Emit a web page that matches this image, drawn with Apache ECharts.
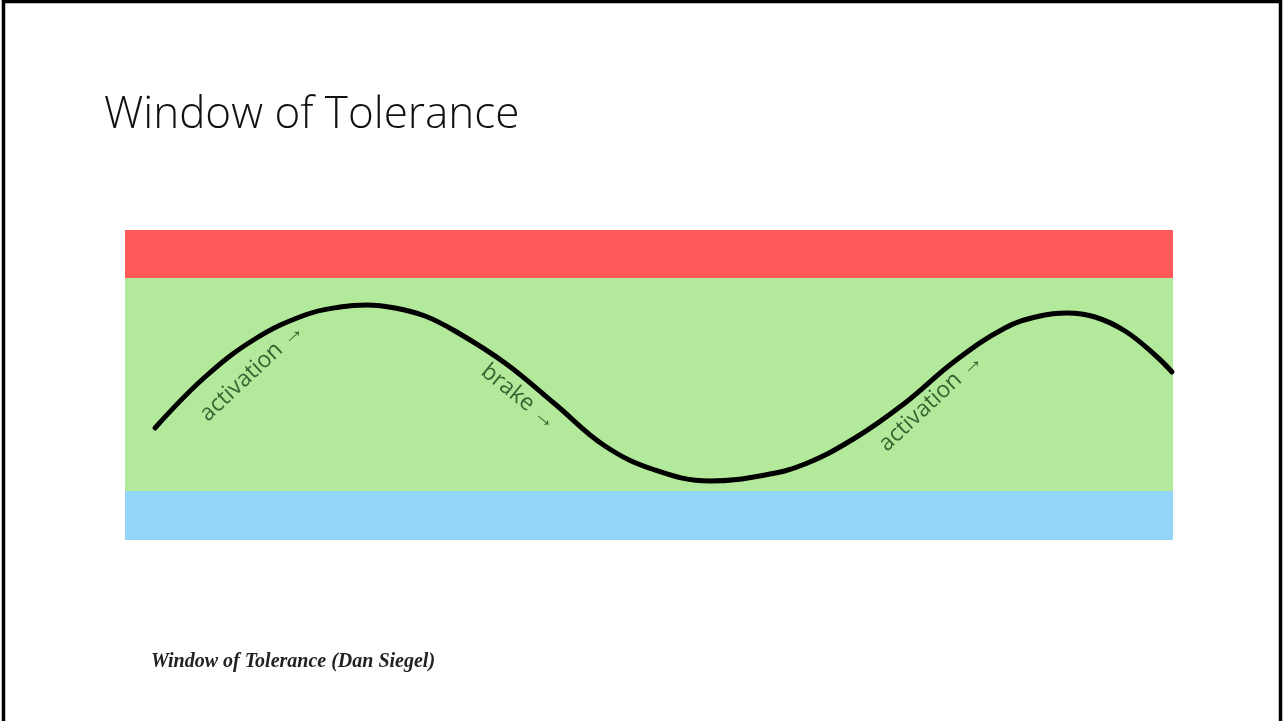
<!DOCTYPE html>
<html>
<head>
<meta charset="utf-8">
<title>Window of Tolerance</title>
<script src="https://cdn.jsdelivr.net/npm/echarts@6/dist/echarts.min.js"></script>
<style>
  html, body { margin: 0; padding: 0; background: #fff; }
  #chart { width: 1283px; height: 721px; }
</style>
</head>
<body>
<div id="chart"></div>
<script>
// arousal curve (x along time, y = arousal level)
const curveX = [30, 80, 130, 180, 215, 242, 270, 300, 330, 380, 430, 480, 530, 585, 640, 680, 730, 780, 830, 880, 915, 942, 970, 1000, 1030, 1047];
const curveY = [112, 163, 201, 225, 233, 235, 232, 224, 209, 177, 136, 94, 70, 59, 65, 76, 102, 137, 179, 212, 224, 227, 223, 209, 185, 168];

// zones: hypo-arousal, window of tolerance, hyper-arousal
const bandNames = ["hypo", "window", "hyper"];
const bandLow = [0, 49, 262];
const bandHigh = [49, 262, 310];
const bandColors = ["#94d6fa", "#b3e99b", "#ff5a5a"];

// annotations along the curve
const noteText = ["activation \u2192", "brake \u2192", "activation \u2192"];
const noteX = [127, 394, 806];
const noteY = [168, 143, 138];
const noteAngle = [43, -39, 43];

const chart = echarts.init(document.getElementById("chart"));

const option = {
    animation: false,
    backgroundColor: "#ffffff",
    title: [
        {
            text: "Window of Tolerance",
            left: 99,
            top: 88,
            textStyle: { fontFamily: "Open Sans", fontWeight: 300, fontSize: 44, color: "#111" }
        },
        {
            text: "Window of Tolerance (Dan Siegel)",
            left: 146,
            top: 647,
            textStyle: { fontFamily: "Liberation Serif", fontStyle: "italic", fontWeight: "bold", fontSize: 20, color: "#222" }
        }
    ],
    graphic: [
        {
            type: "rect",
            shape: { x: 3.5, y: 1.5, width: 1277, height: 760 },
            style: { fill: "none", stroke: "#000", lineWidth: 3.5 },
            silent: true
        }
    ],
    grid: { left: 125, top: 230, width: 1048, height: 310 },
    xAxis: { type: "value", min: 0, max: 1048, show: false },
    yAxis: { type: "value", min: 0, max: 310, show: false },
    series: [
        {
            type: "line",
            data: [],
            z: 1,
            silent: true,
            markArea: {
                silent: true,
                data: bandNames.map((name, i) => [
                    { name: "", yAxis: bandLow[i], itemStyle: { color: bandColors[i] } },
                    { yAxis: bandHigh[i] }
                ])
            }
        },
        {
            type: "line",
            z: 3,
            smooth: 0.4,
            showSymbol: false,
            silent: true,
            lineStyle: { color: "#000", width: 5, cap: "round" },
            data: curveX.map((x, i) => [x, curveY[i]])
        },
        {
            type: "scatter",
            z: 4,
            silent: true,
            symbolSize: 1,
            itemStyle: { color: "transparent" },
            data: noteText.map((t, i) => ({
                value: [noteX[i], noteY[i]],
                label: {
                    show: true,
                    position: "inside",
                    formatter: t,
                    rotate: noteAngle[i],
                    fontFamily: "Open Sans",
                    fontWeight: 500,
                    fontSize: 23,
                    color: "#1a4218"
                }
            }))
        }
    ]
};

chart.setOption(option);
</script>
</body>
</html>
